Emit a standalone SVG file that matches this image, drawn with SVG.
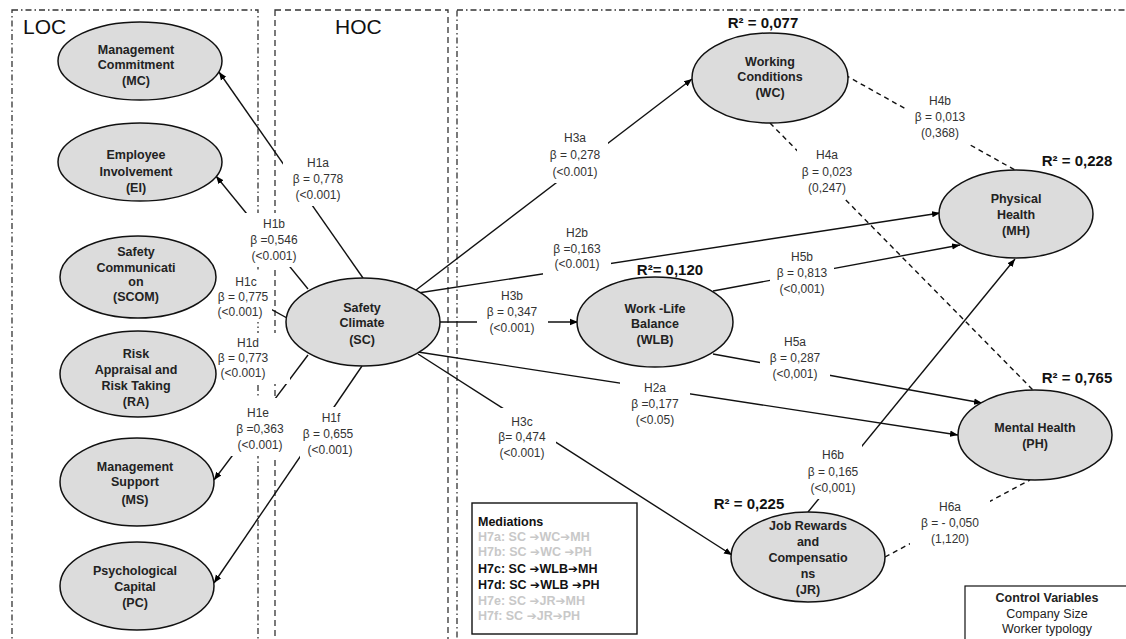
<svg xmlns="http://www.w3.org/2000/svg" width="1126" height="639" viewBox="0 0 1126 639">
<defs>
<marker id="ah" viewBox="0 0 10 10" refX="10" refY="5" markerWidth="8" markerHeight="8" markerUnits="userSpaceOnUse" orient="auto"><path d="M0,1 L10,5 L0,9 z" fill="#000"/></marker>
</defs>
<style>
.frame{fill:none;stroke:#333;stroke-width:1.3;stroke-dasharray:6 3 1.5 3}
.frame2{fill:none;stroke:#333;stroke-width:1.3;stroke-dasharray:6 4}
.c{stroke:#111;stroke-width:1.4;fill:none}
.a{marker-end:url(#ah)}
.d{stroke-dasharray:5 4}
.node ellipse{fill:#dcdcdc;stroke:#111;stroke-width:1.5}
.node text{font-family:"Liberation Sans",Arial,sans-serif;font-weight:bold;font-size:12.5px;fill:#222;text-anchor:middle}
.lbl rect{fill:#fff}
.lbl text{font-family:"Liberation Sans",Arial,sans-serif;font-size:12px;fill:#333;text-anchor:middle}
.r2{font-family:"Liberation Sans",Arial,sans-serif;font-weight:bold;font-size:15px;fill:#111;text-anchor:middle}
.big{font-family:"Liberation Sans",Arial,sans-serif;font-size:21px;fill:#111}
.box{fill:#fff;stroke:#111;stroke-width:1.4}
.med{font-family:"Liberation Sans",Arial,sans-serif;font-weight:bold;font-size:12.5px}
.ar{font-family:"DejaVu Sans",sans-serif;font-weight:bold;font-size:12px}
.grey{fill:#c8c8c8}
.blk{fill:#111}
.ctl{font-family:"Liberation Sans",Arial,sans-serif;font-size:12.5px;fill:#222;text-anchor:middle}
</style>
<rect width="1126" height="639" fill="#fff"/>

<g id="frames">
<rect class="frame" x="12" y="10" width="246" height="660"/>
<rect class="frame2" x="275" y="10" width="173" height="660"/>
<rect class="frame" x="457" y="10" width="700" height="660"/>
<text class="big" x="23" y="34">LOC</text>
<text class="big" x="335" y="34">HOC</text>
</g>

<g id="connectors">
<line class="c a" x1="363" y1="278" x2="219" y2="72"/>
<line class="c a" x1="308" y1="289" x2="216" y2="176"/>
<line class="c a" x1="287" y1="318" x2="216" y2="279"/>
<line class="c a" x1="288" y1="333" x2="216" y2="382"/>
<line class="c a" x1="308" y1="355" x2="214" y2="480"/>
<line class="c a" x1="362" y1="366" x2="214" y2="583"/>
<line class="c a" x1="416" y1="290" x2="692" y2="79"/>
<line class="c a" x1="418" y1="293" x2="940" y2="213"/>
<line class="c a" x1="440" y1="322" x2="578" y2="322"/>
<line class="c a" x1="418" y1="352" x2="958" y2="435"/>
<line class="c a" x1="418" y1="354" x2="732" y2="555"/>
<line class="c a" x1="713" y1="291" x2="960" y2="245"/>
<line class="c a" x1="713" y1="354" x2="982" y2="403"/>
<line class="c a" x1="808" y1="512" x2="1015" y2="259"/>
<line class="c d" x1="770" y1="123" x2="1033" y2="390"/>
<line class="c d" x1="845" y1="75" x2="1015" y2="170"/>
<line class="c d" x1="885" y1="557" x2="1030" y2="480"/>
</g>

<g id="edge-labels">
<g class="lbl" id="l-H1a"><rect x="283" y="152" width="70" height="54"/><text><tspan x="318" y="167">H1a</tspan><tspan x="318" y="183">β = 0,778</tspan><tspan x="318" y="199">(&lt;0.001)</tspan></text></g>
<g class="lbl" id="l-H1b"><rect x="240" y="213" width="68" height="54"/><text><tspan x="274" y="228">H1b</tspan><tspan x="274" y="244">β =0,546</tspan><tspan x="274" y="260">(&lt;0.001)</tspan></text></g>
<g class="lbl" id="l-H1c"><rect x="216" y="272" width="56" height="50"/><text><tspan x="246" y="286">H1c</tspan><tspan x="243" y="301">β = 0,775</tspan><tspan x="240" y="316">(&lt;0.001)</tspan></text></g>
<g class="lbl" id="l-H1d"><rect x="216" y="333" width="74" height="51"/><text><tspan x="248" y="347">H1d</tspan><tspan x="243" y="362">β = 0,773</tspan><tspan x="243" y="377">(&lt;0.001)</tspan></text></g>
<g class="lbl" id="l-H1e"><rect x="231" y="398" width="58" height="58"/><text><tspan x="258" y="417">H1e</tspan><tspan x="260" y="433">β =0,363</tspan><tspan x="260" y="449">(&lt;0.001)</tspan></text></g>
<g class="lbl" id="l-H1f"><rect x="300" y="407" width="58" height="54"/><text><tspan x="331" y="422">H1f</tspan><tspan x="328" y="438">β = 0,655</tspan><tspan x="330" y="454">(&lt;0.001)</tspan></text></g>
<g class="lbl" id="l-H3a"><rect x="546" y="127" width="62" height="56"/><text><tspan x="575" y="142">H3a</tspan><tspan x="575" y="159">β = 0,278</tspan><tspan x="575" y="176">(&lt;0.001)</tspan></text></g>
<g class="lbl" id="l-H2b"><rect x="543" y="222" width="68" height="53"/><text><tspan x="577" y="237">H2b</tspan><tspan x="577" y="253">β =0,163</tspan><tspan x="577" y="268">(&lt;0.001)</tspan></text></g>
<g class="lbl" id="l-H3b"><rect x="477" y="285" width="71" height="54"/><text><tspan x="512" y="300">H3b</tspan><tspan x="512" y="316">β = 0,347</tspan><tspan x="512" y="332">(&lt;0.001)</tspan></text></g>
<g class="lbl" id="l-H2a"><rect x="620" y="377" width="70" height="54"/><text><tspan x="655" y="392">H2a</tspan><tspan x="655" y="408">β =0,177</tspan><tspan x="655" y="424">(&lt;0.05)</tspan></text></g>
<g class="lbl" id="l-H3c"><rect x="494" y="408" width="62" height="56"/><text><tspan x="522" y="426">H3c</tspan><tspan x="522" y="441">β= 0,474</tspan><tspan x="522" y="457">(&lt;0.001)</tspan></text></g>
<g class="lbl" id="l-H4a"><rect x="797" y="144" width="61" height="55"/><text><tspan x="827" y="159">H4a</tspan><tspan x="827" y="176">β = 0,023</tspan><tspan x="827" y="192">(0,247)</tspan></text></g>
<g class="lbl" id="l-H4b"><rect x="905" y="90" width="70" height="54"/><text><tspan x="940" y="105">H4b</tspan><tspan x="940" y="121">β = 0,013</tspan><tspan x="940" y="137">(0,368)</tspan></text></g>
<g class="lbl" id="l-H5b"><rect x="770" y="246" width="64" height="54"/><text><tspan x="802" y="261">H5b</tspan><tspan x="802" y="277">β = 0,813</tspan><tspan x="802" y="293">(&lt;0,001)</tspan></text></g>
<g class="lbl" id="l-H5a"><rect x="760" y="331" width="70" height="54"/><text><tspan x="795" y="346">H5a</tspan><tspan x="795" y="362">β = 0,287</tspan><tspan x="795" y="378">(&lt;0,001)</tspan></text></g>
<g class="lbl" id="l-H6b"><rect x="805" y="444" width="57" height="55"/><text><tspan x="833" y="459">H6b</tspan><tspan x="833" y="476">β = 0,165</tspan><tspan x="833" y="492">(&lt;0,001)</tspan></text></g>
<g class="lbl" id="l-H6a"><rect x="910" y="496" width="80" height="54"/><text><tspan x="950" y="511">H6a</tspan><tspan x="950" y="527">β = - 0,050</tspan><tspan x="950" y="543">(1,120)</tspan></text></g>
</g>

<g id="node-MC" class="node"><ellipse cx="140" cy="61" rx="82" ry="39"/><text><tspan x="136" y="54">Management</tspan><tspan x="136" y="69">Commitment</tspan><tspan x="136" y="85">(MC)</tspan></text></g>
<g id="node-EI" class="node"><ellipse cx="140" cy="162" rx="82" ry="39"/><text><tspan x="136" y="159">Employee</tspan><tspan x="136" y="176">Involvement</tspan><tspan x="136" y="192">(EI)</tspan></text></g>
<g id="node-SCOM" class="node"><ellipse cx="138" cy="277" rx="78" ry="41"/><text><tspan x="136" y="256">Safety</tspan><tspan x="136" y="272">Communicati</tspan><tspan x="136" y="286">on</tspan><tspan x="136" y="301">(SCOM)</tspan></text></g>
<g id="node-RA" class="node"><ellipse cx="138" cy="374" rx="78" ry="43"/><text><tspan x="136" y="358">Risk</tspan><tspan x="136" y="374">Appraisal and</tspan><tspan x="136" y="390">Risk Taking</tspan><tspan x="136" y="406">(RA)</tspan></text></g>
<g id="node-MS" class="node"><ellipse cx="137" cy="482" rx="77" ry="44"/><text><tspan x="135" y="471">Management</tspan><tspan x="135" y="486">Support</tspan><tspan x="135" y="504">(MS)</tspan></text></g>
<g id="node-PC" class="node"><ellipse cx="137" cy="586" rx="77" ry="44"/><text><tspan x="135" y="575">Psychological</tspan><tspan x="135" y="591">Capital</tspan><tspan x="135" y="607">(PC)</tspan></text></g>
<g id="node-SC" class="node"><ellipse cx="363" cy="322" rx="77" ry="44"/><text><tspan x="362" y="312">Safety</tspan><tspan x="362" y="327">Climate</tspan><tspan x="362" y="344">(SC)</tspan></text></g>
<g id="node-WC" class="node"><ellipse cx="770" cy="78" rx="78" ry="45"/><text><tspan x="770" y="66">Working</tspan><tspan x="770" y="81">Conditions</tspan><tspan x="770" y="97">(WC)</tspan></text></g>
<g id="node-MH" class="node"><ellipse cx="1016" cy="214" rx="77" ry="44"/><text><tspan x="1016" y="203">Physical</tspan><tspan x="1016" y="219">Health</tspan><tspan x="1016" y="235">(MH)</tspan></text></g>
<g id="node-WLB" class="node"><ellipse cx="655" cy="322" rx="78" ry="45"/><text><tspan x="655" y="313">Work -Life</tspan><tspan x="655" y="328">Balance</tspan><tspan x="655" y="344">(WLB)</tspan></text></g>
<g id="node-PH" class="node"><ellipse cx="1035" cy="435" rx="77" ry="45"/><text><tspan x="1035" y="432">Mental Health</tspan><tspan x="1035" y="448">(PH)</tspan></text></g>
<g id="node-JR" class="node"><ellipse cx="808" cy="557" rx="77" ry="45"/><text><tspan x="808" y="530">Job Rewards</tspan><tspan x="808" y="546">and</tspan><tspan x="808" y="562">Compensatio</tspan><tspan x="808" y="578">ns</tspan><tspan x="808" y="594">(JR)</tspan></text></g>

<g id="r-squared">
<text class="r2" x="763" y="28">R² = 0,077</text>
<text class="r2" x="1077" y="166">R² = 0,228</text>
<text class="r2" x="670" y="275">R²= 0,120</text>
<text class="r2" x="1077" y="383">R² = 0,765</text>
<text class="r2" x="749" y="509">R² = 0,225</text>
</g>

<g id="mediations">
<rect class="box" x="472" y="503" width="165" height="131"/>
<text class="med blk" x="478" y="526">Mediations</text>
<text class="med grey" x="478" y="541">H7a: SC <tspan class="ar">➔</tspan>WC<tspan class="ar">➔</tspan>MH</text>
<text class="med grey" x="478" y="556">H7b: SC <tspan class="ar">➔</tspan>WC <tspan class="ar">➔</tspan>PH</text>
<text class="med blk" x="478" y="573">H7c: SC <tspan class="ar">➔</tspan>WLB<tspan class="ar">➔</tspan>MH</text>
<text class="med blk" x="478" y="589">H7d: SC <tspan class="ar">➔</tspan>WLB <tspan class="ar">➔</tspan>PH</text>
<text class="med grey" x="478" y="605">H7e: SC <tspan class="ar">➔</tspan>JR<tspan class="ar">➔</tspan>MH</text>
<text class="med grey" x="478" y="620">H7f: SC <tspan class="ar">➔</tspan>JR<tspan class="ar">➔</tspan>PH</text>
</g>

<g id="controls">
<rect fill="#fff" stroke="#111" stroke-width="1.2" x="965" y="586" width="170" height="60"/>
<text class="ctl" x="1047" y="602" font-weight="bold">Control Variables</text>
<text class="ctl" x="1047" y="618">Company Size</text>
<text class="ctl" x="1047" y="633">Worker typology</text>
</g>
</svg>
